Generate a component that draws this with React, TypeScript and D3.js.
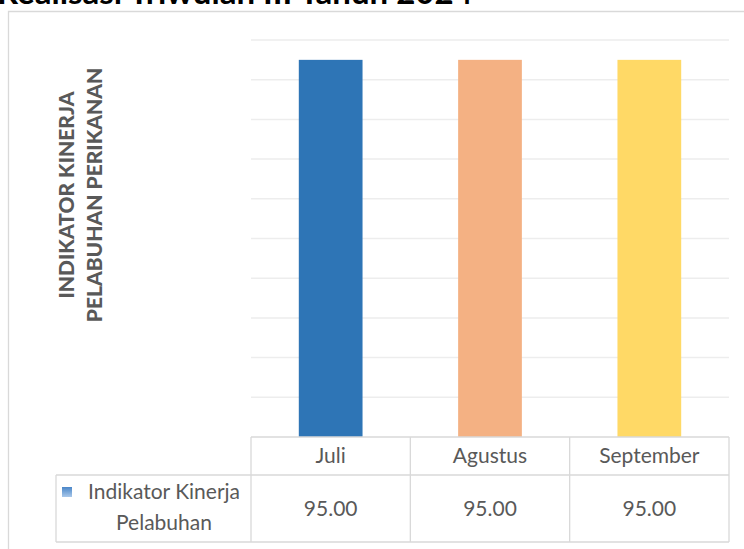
import React from 'react';
import * as d3 from 'd3';

const title = 'Realisasi Triwulan III Tahun 2024';
const months = ['Juli', 'Agustus', 'September'];
const values = [95.0, 95.0, 95.0];
const barColors = ['#2E75B6', '#F4B183', '#FFD966'];
const seriesName = ['Indikator Kinerja', 'Pelabuhan'];
const axisTitle = ['INDIKATOR KINERJA', 'PELABUHAN PERIKANAN'];
const yTicks = d3.range(0, 101, 10);

const W = 744;
const H = 549;
const FONT = 'Lato, "Open Sans", sans-serif';

export default function App() {
  const plot = { left: 251, right: 729, top: 40, bottom: 437 };
  const x = d3.scaleBand().domain(months).range([plot.left, plot.right]).paddingInner(0).paddingOuter(0);
  const y = d3.scaleLinear().domain([0, 100]).range([plot.bottom, plot.top]);
  const barW = x.bandwidth() * 0.4;

  const headerBottom = 475;
  const tableBottom = 542;
  const legendLeft = 56;
  const grid = '#EDEDED';
  const border = '#D9D9D9';
  const textCol = '#595959';

  return (
    <svg width={W} height={H} style={{ position: 'absolute', left: 0, top: 0, background: '#fff' }}>
      <defs>
        <linearGradient id="key" x1="0" y1="0" x2="0" y2="1">
          <stop offset="0" stopColor="#4A86C8" />
          <stop offset="1" stopColor="#A9C8EA" />
        </linearGradient>
      </defs>

      {/* chart title, mostly cut off at the top */}
      <text x={-3} y={4} fontFamily={FONT} fontWeight={700} fontSize={33} fill="#000">{title}</text>

      {/* chart frame */}
      <path d={`M${W + 2},11.5 H8.5 V${H + 2}`} fill="none" stroke={border} strokeWidth={1.3} />

      {/* gridlines */}
      {yTicks.slice(1).map((t) => (
        <line key={t} x1={plot.left} x2={plot.right} y1={y(t)} y2={y(t)} stroke={grid} strokeWidth={1.5} />
      ))}

      {/* bars */}
      {months.map((m, i) => (
        <rect
          key={m}
          x={x(m)! + (x.bandwidth() - barW) / 2}
          y={y(values[i])}
          width={barW}
          height={y(0) - y(values[i])}
          fill={barColors[i]}
        />
      ))}

      {/* vertical axis title */}
      {axisTitle.map((t, i) => (
        <text
          key={t}
          transform={`translate(${74 + i * 28},195) rotate(-90)`}
          textAnchor="middle"
          fontFamily={FONT}
          fontWeight={900}
          fontSize={21}
          fill={textCol}
        >
          {t}
        </text>
      ))}

      {/* data table */}
      <g stroke={border} strokeWidth={1.3} fill="none">
        <line x1={plot.left} x2={plot.right} y1={plot.bottom} y2={plot.bottom} />
        <line x1={legendLeft} x2={plot.right} y1={headerBottom} y2={headerBottom} />
        <line x1={legendLeft} x2={plot.right} y1={tableBottom} y2={tableBottom} />
        <line x1={legendLeft} x2={legendLeft} y1={headerBottom} y2={tableBottom} />
        {months.map((m) => (
          <line key={m} x1={x(m)!} x2={x(m)!} y1={plot.bottom} y2={tableBottom} />
        ))}
        <line x1={plot.right} x2={plot.right} y1={plot.bottom} y2={tableBottom} />
      </g>

      {months.map((m, i) => (
        <g key={m} fontFamily={FONT} fontSize={21} fill={textCol} textAnchor="middle">
          <text x={x(m)! + x.bandwidth() / 2} y={(plot.bottom + headerBottom) / 2} dy="0.35em">{m}</text>
          <text x={x(m)! + x.bandwidth() / 2} y={(headerBottom + tableBottom) / 2} dy="0.35em">
            {d3.format('.2f')(values[i])}
          </text>
        </g>
      ))}

      <rect x={62} y={487} width={10} height={10} fill="url(#key)" />
      <g fontFamily={FONT} fontSize={21} fill={textCol} textAnchor="middle">
        <text x={164} y={499}>{seriesName[0]}</text>
        <text x={164} y={530}>{seriesName[1]}</text>
      </g>
    </svg>
  );
}
